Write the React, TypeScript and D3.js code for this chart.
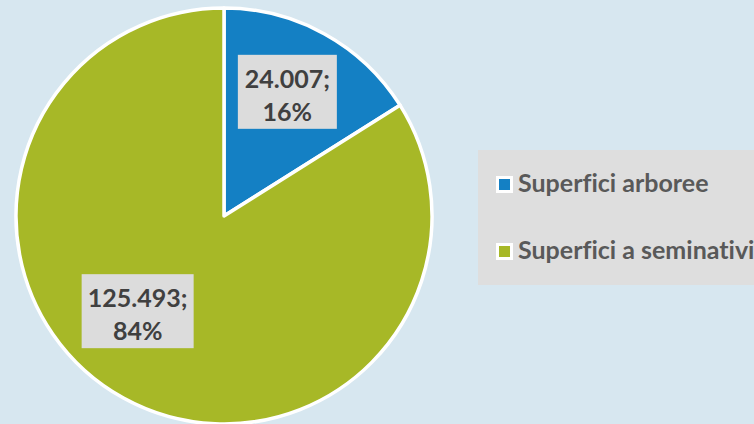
import React from "react";
import * as d3 from "d3";

const categories = ["Superfici arboree", "Superfici a seminativi"];
const values = [24007, 125493];
const valueLabels = ["24.007;", "125.493;"];
const percentLabels = ["16%", "84%"];
const colors = ["#1480C4", "#A7B827"];

const W = 754;
const H = 424;
const cx = 224;
const cy = 216;
const R = 208;
const labelNudge: [number, number][] = [[-3, -4], [-20, -25]];

export default function App() {
  const pie = d3.pie<number>().sort(null).value((d) => d)(values);
  const arc = d3.arc<d3.PieArcDatum<number>>().innerRadius(0).outerRadius(R);
  const labelArc = d3.arc<d3.PieArcDatum<number>>().innerRadius(R * 0.66).outerRadius(R * 0.66);
  const font = "Lato, 'Open Sans', sans-serif";
  const textStyle = { fontVariantLigatures: "none" as const, fontFeatureSettings: "'liga' 0" };
  return (
    <svg width={W} height={H} style={{ position: "absolute", left: 0, top: 0 }}>
      <rect x={0} y={0} width={W} height={H} fill="#D7E7F0" />
      <g transform={`translate(${cx},${cy})`}>
        {pie.map((p, i) => (
          <path key={i} d={arc(p) || ""} fill={colors[i]} stroke="#FFFFFF" strokeWidth={3.5} strokeLinejoin="round" />
        ))}
        {pie.map((p, i) => {
          const [lx, ly] = labelArc.centroid(p);
          const x = lx + labelNudge[i][0];
          const y = ly + labelNudge[i][1];
          const bw = i === 0 ? 99 : 112;
          const bh = 74;
          return (
            <g key={"l" + i} transform={`translate(${x},${y})`}>
              <rect x={-bw / 2} y={-bh / 2} width={bw} height={bh} fill="#DCDCDC" />
              <text textAnchor="middle" fontFamily={font} fontWeight={700} fontSize={25} fill="#404040" style={textStyle}>
                <tspan x={0} y={-4}>{valueLabels[i]}</tspan>
                <tspan x={0} y={29}>{percentLabels[i]}</tspan>
              </text>
            </g>
          );
        })}
      </g>
      <rect x={478} y={150} width={290} height={135} fill="#DEDEDE" />
      {categories.map((c, i) => {
        const y = 184 + i * 67;
        return (
          <g key={"g" + i}>
            <rect x={496} y={y - 8} width={17} height={17} fill="#FFFFFF" />
            <rect x={499} y={y - 5} width={11} height={11} fill={colors[i]} />
            <text x={518} y={y + 8} fontFamily={font} fontWeight={700} fontSize={25} fill="#595959" style={textStyle}>{c}</text>
          </g>
        );
      })}
    </svg>
  );
}
